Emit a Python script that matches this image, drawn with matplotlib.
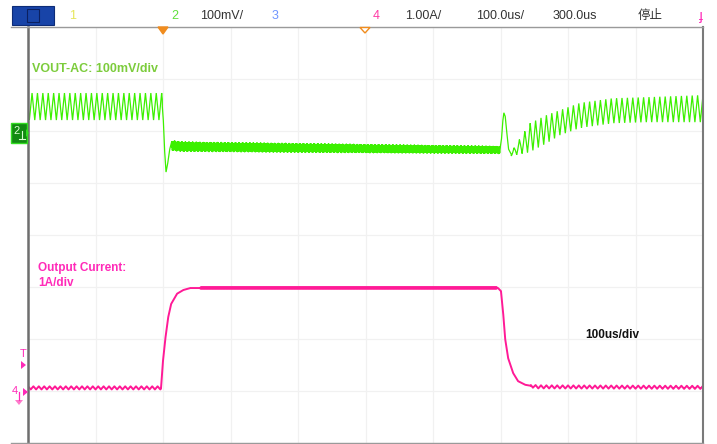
import numpy as np
import matplotlib
matplotlib.use("Agg")
from matplotlib import pyplot as plt
from matplotlib.patches import Rectangle, Polygon
from matplotlib.lines import Line2D

plt.rcParams['font.family'] = ['Liberation Sans', 'Noto Sans CJK SC', 'DejaVu Sans']

# ---- scope settings ----
time_div = 100.0      # us/div
volt_div = 100.0      # mV/div (ch2, AC coupled)
amp_div = 1.0         # A/div (ch4)
ch2_offset = 6.0      # div, ground marker of ch2
ch4_offset = 1.0      # div, ground marker of ch4
ripple_period = 8.0   # us, switching ripple
fuzz_period = 0.9     # us, hf noise while loaded
fuzz_beat = 5.3       # us, second noise component

# ---- ch2: output voltage ripple (mV) ----
# no-load ripple before the step
pre_t = [0.0, 199.0]
pre_hi = [73.0, 73.0]
pre_lo = [21.0, 21.0]
# undershoot at load step
dip_t = [199.0, 200.5, 202.5, 204.5, 207.0, 210.0, 213.0]
dip_v = [47.0, 20.0, -40.0, -79.0, -62.0, -35.0, -20.0]
# loaded band
load_t = [213.0, 230.0, 450.0, 699.0]
load_mid = [-29.0, -31.0, -34.0, -37.0]
load_half = [11.5, 11.0, 10.0, 8.5]
# overshoot at load release
over_t = [699.0, 701.5, 703.5, 705.0, 707.0, 709.5, 712.0, 716.0]
over_v = [-37.0, -15.0, 20.0, 35.0, 28.0, -5.0, -35.0, -45.0]
# recovering ripple envelope
rec_t = [716.0, 744.0, 769.0, 788.0, 818.0, 867.0, 917.0, 1000.0]
rec_hi = [-40.0, 15.0, 31.0, 40.0, 54.0, 63.0, 65.0, 69.0]
rec_lo = [-48.0, -40.0, -23.0, -8.0, 6.0, 15.0, 17.0, 17.0]

# ---- ch4: output current (A) ----
rise_t = [0.0, 197.0, 200.0, 203.0, 207.4, 211.9, 220.7, 229.6, 240.0, 696.3]
rise_i = [0.06, 0.06, 0.58, 0.96, 1.40, 1.67, 1.87, 1.94, 1.98, 1.98]
fall_t = [696.3, 700.7, 703.7, 706.7, 711.1, 718.5, 725.9, 736.3, 754.0, 1000.0]
fall_i = [1.98, 1.92, 1.54, 1.02, 0.64, 0.35, 0.19, 0.12, 0.08, 0.07]
cur_ripple = 0.03

# header texts
hdr_items = [("1", 73, "#e6e65a", "center"), ("2", 175, "#5ee03a", "center"),
             ("100mV/", 200, "#333333", "left"), ("3", 275, "#6f95ff", "center"),
             ("4", 376, "#ff3aa5", "center"), ("1.00A/", 405, "#333333", "left"),
             ("100.0us/", 476, "#333333", "left"), ("300.0us", 553, "#333333", "left"),
             ("停止", 638, "#333333", "left")]


def tri(t, period):
    ph = (t / period) % 1.0
    return 4 * np.abs(ph - 0.5) - 1


W, H = 717, 444
fig = plt.figure(figsize=(W / 100, H / 100), dpi=100)
fig.patch.set_facecolor("white")


def fx(px):
    return px / W


def fy(py):
    return 1 - py / H


ax = fig.add_axes([fx(28), fy(443), (703 - 28) / W, (443 - 27) / H])
ax.set_xlim(0, 10 * time_div)
ax.set_ylim(0, 8)
ax.set_xticks(np.arange(0, 10 * time_div + 1, time_div))
ax.set_yticks(np.arange(0, 9, 1))
ax.tick_params(length=0, labelbottom=False, labelleft=False)
ax.grid(True, color="#f1f1f1", lw=0.9)
for side in ["top", "bottom"]:
    ax.spines[side].set_color("#9a9a9a")
    ax.spines[side].set_linewidth(1.0)
ax.spines["left"].set_color("#6e6e6e")
ax.spines["left"].set_linewidth(1.8)
ax.spines["right"].set_color("#7a7a7a")
ax.spines["right"].set_linewidth(1.5)

green = "#3cf000"
pink = "#ff1a96"


def to_div_v(v):
    return ch2_offset + np.asarray(v) / volt_div


# ch2 trace, built segment by segment
t1 = np.arange(pre_t[0], pre_t[1], 0.1)
hi = np.interp(t1, pre_t, pre_hi)
lo = np.interp(t1, pre_t, pre_lo)
v1 = (hi + lo) / 2 + (hi - lo) / 2 * tri(t1 + 2.0, ripple_period)

t3 = np.arange(load_t[0], load_t[-1], 0.1)
noise = 0.85 * tri(t3, fuzz_period) + 0.15 * tri(t3, fuzz_beat)
v3 = np.interp(t3, load_t, load_mid) + np.interp(t3, load_t, load_half) * noise

t5 = np.arange(rec_t[0], rec_t[-1] + 0.1, 0.1)
hi = np.interp(t5, rec_t, rec_hi)
lo = np.interp(t5, rec_t, rec_lo)
v5 = (hi + lo) / 2 + (hi - lo) / 2 * tri(t5, ripple_period)

tv = np.concatenate([t1, dip_t, t3, over_t, t5])
vv = np.concatenate([v1, dip_v, v3, over_v, v5])
ax.plot(tv, to_div_v(vv), color=green, lw=0.9, solid_joinstyle="miter")

# ch4 trace
ti = np.arange(0, 1000.05, 0.1)
env = np.where(ti < 696.3, np.interp(ti, rise_t, rise_i), np.interp(ti, fall_t, fall_i))
low_mask = (env < 0.1)
flat_mask = (ti > 255) & (ti < 695)
ii = env + cur_ripple * tri(ti, ripple_period) * low_mask + 0.012 * tri(ti, fuzz_period) * flat_mask
ax.plot(ti, ch4_offset + ii / amp_div, color=pink, lw=1.4)

# labels inside the graticule
fig.text(fx(32), fy(69), "VOUT-AC: 100mV/div", color="#7ccc3c", fontsize=9,
         fontweight="bold", va="center", ha="left")
fig.text(fx(38), fy(268), "Output Current:", color="#ff2ab8", fontsize=8.5,
         fontweight="bold", va="center", ha="left")
fig.text(fx(38), fy(283), "1A/div", color="#ff2ab8", fontsize=8.5,
         fontweight="bold", va="center", ha="left")
fig.text(fx(585), fy(335), "100us/div", color="#111111", fontsize=8.5,
         fontweight="bold", va="center", ha="left")

# frame lines reaching past the left edge
fig.add_artist(Line2D([fx(11), fx(28)], [fy(27), fy(27)], color="#9a9a9a", lw=1.0))
fig.add_artist(Line2D([fx(11), fx(28)], [fy(443), fy(443)], color="#9a9a9a", lw=1.0))

# header bar
fig.add_artist(Rectangle((fx(12), fy(25)), fx(42), 19 / H, facecolor="#1844a8",
                         edgecolor="#0d2c78", lw=0.8))
fig.add_artist(Rectangle((fx(27), fy(22)), fx(12), 13 / H, facecolor="none",
                         edgecolor="#0b2060", lw=0.8))
for name, x, col, ha in hdr_items:
    fig.text(fx(x), fy(16), name, color=col, fontsize=9, ha=ha, va="center")
fig.text(fx(699), fy(16), "ɟ", color="#ff2ab8", fontsize=10, ha="left", va="center")

# trigger position markers on the top edge
fig.add_artist(Polygon([(fx(158), fy(27)), (fx(168), fy(27)), (fx(163), fy(34))],
                       closed=True, facecolor="#f08c1e", edgecolor="#f08c1e"))
fig.add_artist(Polygon([(fx(360), fy(27.5)), (fx(370), fy(27.5)), (fx(365), fy(33))],
                       closed=True, facecolor="white", edgecolor="#f08c1e", lw=1.0))

# ch2 ground marker
fig.add_artist(Rectangle((fx(11), fy(143)), fx(16), 20 / H, facecolor="#128a12",
                         edgecolor="#33dd22", lw=1.0))
fig.text(fx(13), fy(131), "2", color="#d8ffd0", fontsize=8, ha="left", va="center")
fig.add_artist(Polygon([(fx(26), fy(129)), (fx(26), fy(137)), (fx(29), fy(133))],
                       closed=True, facecolor="#33dd22", edgecolor="none"))
fig.add_artist(Line2D([fx(19), fx(25)], [fy(139), fy(139)], color="#d8ffd0", lw=0.8))
fig.add_artist(Line2D([fx(22), fx(22)], [fy(139), fy(131)], color="#d8ffd0", lw=0.8))

# ch4 ground and trigger level markers
fig.text(fx(23), fy(354), "T", color="#ff2ab8", fontsize=8, ha="center", va="center")
fig.add_artist(Polygon([(fx(21), fy(361)), (fx(21), fy(369)), (fx(26), fy(365))],
                       closed=True, facecolor="#ff2ab8", edgecolor="none"))
fig.text(fx(15), fy(391), "4", color="#ff2ab8", fontsize=8, ha="center", va="center")
fig.add_artist(Polygon([(fx(23), fy(388)), (fx(23), fy(396)), (fx(28), fy(392))],
                       closed=True, facecolor="#ff2ab8", edgecolor="none"))
fig.add_artist(Line2D([fx(19), fx(19)], [fy(392), fy(400)], color="#ff2ab8", lw=0.9))
fig.add_artist(Polygon([(fx(15), fy(400)), (fx(23), fy(400)), (fx(19), fy(405))],
                       closed=True, facecolor="#ff7acb", edgecolor="none"))

fig.savefig("out.png", dpi=100, facecolor="white")
